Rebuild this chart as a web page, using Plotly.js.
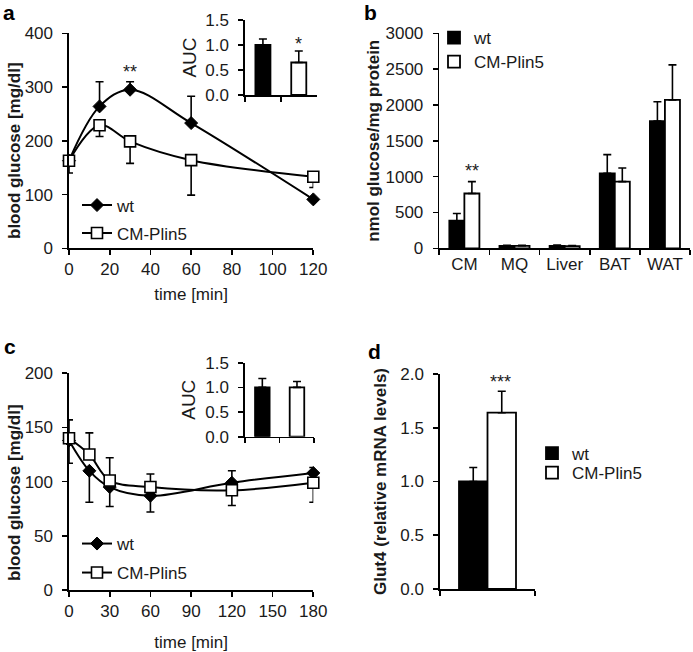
<!DOCTYPE html>
<html>
<head>
<meta charset="utf-8">
<script src="https://cdn.plot.ly/plotly-3.0.1.min.js"></script>
<style>html,body{margin:0;padding:0;background:#fff}#chart{width:693px;height:652px}</style>
</head>
<body>
<div id="chart"></div>
<script>
// ---------- data ----------
var groups = ['wt', 'CM-Plin5'];

// panel a: glucose tolerance
var aTime = [0, 15, 30, 60, 120];
var aWt = [163, 264, 295, 233, 91];
var aWtErr = [10, 46, 15, 50, 0];
var aCm = [163, 229, 199, 164, 133];
var aCmErr = [23, 21, 41, 65, 20];
var aAuc = [1.0, 0.65];
var aAucErr = [0.12, 0.23];

// panel b: glucose uptake
var tissues = ['CM', 'MQ', 'Liver', 'BAT', 'WAT'];
var bWt = [385, 35, 35, 1045, 1775];
var bWtErr = [100, 8, 10, 262, 270];
var bCm = [765, 35, 30, 930, 2070];
var bCmErr = [165, 8, 10, 190, 490];

// panel c: insulin tolerance
var cTime = [0, 15, 30, 60, 120, 180];
var cWt = [138, 110, 95, 87, 99, 108];
var cWtErrPlus = [0, 0, 0, 0, 11, 5];
var cWtErrMinus = [21, 29, 18, 15, 0, 0];
var cCm = [140, 125, 101, 95, 92, 99];
var cCmErrPlus = [17, 20, 21, 12, 0, 0];
var cCmErrMinus = [0, 0, 0, 0, 14, 18];
var cAuc = [1.0, 1.0];
var cAucErr = [0.18, 0.12];

// panel d: Glut4 mRNA
var dCat = [''];
var dWt = [1.0];
var dWtErr = [0.13];
var dCm = [1.64];
var dCmErr = [0.2];

// ---------- styling ----------
var W = 693, H = 652;
function xd(a, b) { return [a / W, b / W]; }
function yd(top, bot) { return [1 - bot / H, 1 - top / H]; }
var FONT = '"Liberation Sans", Arial, sans-serif';
var TXT = '#1a1a1a';
var tickFont = {family: FONT, size: 17, color: TXT};
var zeros = function (n) { var r = []; for (var i = 0; i < n; i++) r.push(0); return r; };

function errBar(plus, minus) {
  return {type: 'data', symmetric: false, array: plus, arrayminus: minus,
          color: '#000', thickness: 1.6, width: 4};
}
var wtLine = {color: '#000', width: 2, shape: 'spline'};
var wtMarker = {symbol: 'diamond', size: 10, color: '#000', line: {color: '#000', width: 1}};
var cmMarker = {symbol: 'square', size: 11, color: '#fff', line: {color: '#000', width: 1.6}};
var blackBar = {color: '#000', line: {color: '#000', width: 1.8}};
var whiteBar = {color: '#fff', line: {color: '#000', width: 1.8}};

var traces = [
  // a
  {type: 'scatter', mode: 'lines+markers', name: 'wt', x: aTime, y: aWt, xaxis: 'x', yaxis: 'y',
   line: wtLine, marker: wtMarker, error_y: errBar(aWtErr, zeros(aWt.length)), cliponaxis: false,
   legend: 'legend'},
  {type: 'scatter', mode: 'lines+markers', name: 'CM-Plin5', x: aTime, y: aCm, xaxis: 'x', yaxis: 'y',
   line: wtLine, marker: cmMarker, error_y: errBar(zeros(aCm.length), aCmErr), cliponaxis: false,
   legend: 'legend2'},
  // a inset
  {type: 'bar', x: groups, y: aAuc, xaxis: 'x2', yaxis: 'y2', width: 0.42, showlegend: false,
   marker: {color: ['#000', '#fff'], line: {color: '#000', width: 1.8}},
   error_y: errBar(aAucErr, [0, 0])},
  // b
  {type: 'bar', name: 'wt', x: tissues, y: bWt, xaxis: 'x3', yaxis: 'y3', marker: blackBar,
   error_y: errBar(bWtErr, zeros(5)), legend: 'legend3'},
  {type: 'bar', name: 'CM-Plin5', x: tissues, y: bCm, xaxis: 'x3', yaxis: 'y3', marker: whiteBar,
   error_y: errBar(bCmErr, zeros(5)), legend: 'legend4'},
  // c
  {type: 'scatter', mode: 'lines+markers', name: 'wt', x: cTime, y: cWt, xaxis: 'x4', yaxis: 'y4',
   line: wtLine, marker: wtMarker, error_y: errBar(cWtErrPlus, cWtErrMinus), cliponaxis: false,
   legend: 'legend5'},
  {type: 'scatter', mode: 'lines+markers', name: 'CM-Plin5', x: cTime, y: cCm, xaxis: 'x4', yaxis: 'y4',
   line: wtLine, marker: cmMarker, error_y: errBar(cCmErrPlus, cCmErrMinus), cliponaxis: false,
   legend: 'legend6'},
  // c inset
  {type: 'bar', x: groups, y: cAuc, xaxis: 'x5', yaxis: 'y5', width: 0.42, showlegend: false,
   marker: {color: ['#000', '#fff'], line: {color: '#000', width: 1.8}},
   error_y: errBar(cAucErr, [0, 0])},
  // d
  {type: 'bar', name: 'wt', x: dCat, y: dWt, xaxis: 'x6', yaxis: 'y6', marker: blackBar,
   error_y: errBar(dWtErr, [0]), legend: 'legend7'},
  {type: 'bar', name: 'CM-Plin5', x: dCat, y: dCm, xaxis: 'x6', yaxis: 'y6', marker: whiteBar,
   error_y: errBar(dCmErr, [0]), legend: 'legend8'}
];

function axBase(extra) {
  var o = {showline: true, linecolor: '#000', linewidth: 1.6, ticks: 'outside', ticklen: 5,
           tickwidth: 1.6, tickcolor: '#000', showgrid: false, zeroline: false,
           tickfont: tickFont, fixedrange: true};
  for (var k in extra) o[k] = extra[k];
  return o;
}
// one legend per entry so each row sits where the reference puts it (y = row centre)
function legendBox(x, rowY) {
  return {x: x / W, y: 1 - (rowY - 17.5) / H, xanchor: 'left', yanchor: 'top', bgcolor: 'rgba(0,0,0,0)',
          borderwidth: 0, font: {family: FONT, size: 17, color: TXT},
          itemclick: false, itemdoubleclick: false};
}
var titleBold = {family: FONT, size: 17, color: TXT, weight: 'bold'};
function letter(t, x, y) {
  return {text: '<b>' + t + '</b>', xref: 'paper', yref: 'paper', x: x / W, y: 1 - y / H, showarrow: false,
          xanchor: 'center', yanchor: 'middle', font: {family: FONT, size: 21, color: '#000'}};
}
function vTitle(t, x, y) {
  return {text: '<b>' + t + '</b>', xref: 'paper', yref: 'paper', x: x / W, y: 1 - y / H, showarrow: false,
          xanchor: 'center', yanchor: 'middle', textangle: -90, font: {family: FONT, size: 17, color: TXT}};
}
function star(t, xr, yr, x, y, xs) {
  return {text: t, xref: xr, yref: yr, x: x, y: y, xshift: xs || 0, showarrow: false,
          xanchor: 'center', yanchor: 'middle', font: {family: FONT, size: 18, color: TXT}};
}

var layout = {
  width: W, height: H, margin: {l: 0, r: 0, t: 0, b: 0}, paper_bgcolor: '#fff', plot_bgcolor: 'rgba(0,0,0,0)',
  barmode: 'group', bargap: 0.4, bargroupgap: 0, showlegend: true, font: {family: FONT, color: TXT},
  // a
  xaxis: axBase({domain: xd(69, 313.3), anchor: 'y', range: [0, 120], dtick: 20, tick0: 0,
                 title: {text: 'time [min]', font: {family: FONT, size: 17, color: TXT}, standoff: 10}}),
  yaxis: axBase({domain: yd(33.3, 248.3), anchor: 'x', range: [0, 400], dtick: 100, ticklabelstandoff: 6}),
  // a inset
  xaxis2: axBase({domain: xd(245, 316.7), anchor: 'y2', type: 'category', range: [-0.5, 1.5],
                  tickson: 'boundaries', showticklabels: false}),
  yaxis2: axBase({domain: yd(20, 95), anchor: 'x2', range: [0, 1.5], dtick: 0.5, tickformat: '.1f',
                  ticklabelstandoff: 6,
                  title: {text: 'AUC', font: {family: FONT, size: 19, color: TXT}, standoff: 4}}),
  // b
  xaxis3: axBase({domain: xd(439.3, 690), anchor: 'y3', type: 'category', range: [-0.5, 4.5],
                  tickson: 'boundaries'}),
  yaxis3: axBase({domain: yd(33.3, 248.3), anchor: 'x3', range: [0, 3000], dtick: 500, ticklabelstandoff: 6,
                  title: {text: 'nmol glucose/mg protein', font: titleBold, standoff: 1}}),
  // c
  xaxis4: axBase({domain: xd(69, 313.3), anchor: 'y4', range: [0, 180], dtick: 30, tick0: 0,
                  title: {text: 'time [min]', font: {family: FONT, size: 17, color: TXT}, standoff: 23}}),
  yaxis4: axBase({domain: yd(373.3, 590), anchor: 'x4', range: [0, 200], dtick: 50, ticklabelstandoff: 6}),
  // c inset
  xaxis5: axBase({domain: xd(245, 314.3), anchor: 'y5', type: 'category', range: [-0.5, 1.5],
                  tickson: 'boundaries', showticklabels: false}),
  yaxis5: axBase({domain: yd(362.7, 436.7), anchor: 'x5', range: [0, 1.5], dtick: 0.5, tickformat: '.1f',
                  ticklabelstandoff: 6,
                  title: {text: 'AUC', font: {family: FONT, size: 19, color: TXT}, standoff: 4}}),
  // d
  xaxis6: axBase({domain: xd(440, 535), anchor: 'y6', type: 'category', range: [-0.5, 0.5],
                  tickson: 'boundaries', showticklabels: false}),
  yaxis6: axBase({domain: yd(374, 589), anchor: 'x6', range: [0, 2], dtick: 0.5, tickformat: '.1f',
                  ticklabelstandoff: 6,
                  title: {text: 'Glut4 (relative mRNA levels)', font: titleBold, standoff: 9}}),
  legend: legendBox(77, 205),
  legend2: legendBox(77, 233),
  legend3: legendBox(434, 37.5),
  legend4: legendBox(434, 61.5),
  legend5: legendBox(77, 543.5),
  legend6: legendBox(77, 572.5),
  legend7: legendBox(532, 453),
  legend8: legendBox(532, 472.5),
  annotations: [
    letter('a', 9, 13), letter('b', 370, 12), letter('c', 10, 346), letter('d', 374, 351),
    vTitle('blood glucose [mg/dl]', 14, 151),
    vTitle('blood glucose [mg/dl]', 14, 493),
    star('**', 'x', 'y', 30, 328),
    star('*', 'x2', 'y2', 'CM-Plin5', 1.03),
    star('**', 'x3', 'y3', 'CM', 1080, 8),
    star('***', 'x6', 'y6', '', 1.93, 13)
  ]
};

Plotly.newPlot('chart', traces, layout, {staticPlot: true, displayModeBar: false});
</script>
</body>
</html>
